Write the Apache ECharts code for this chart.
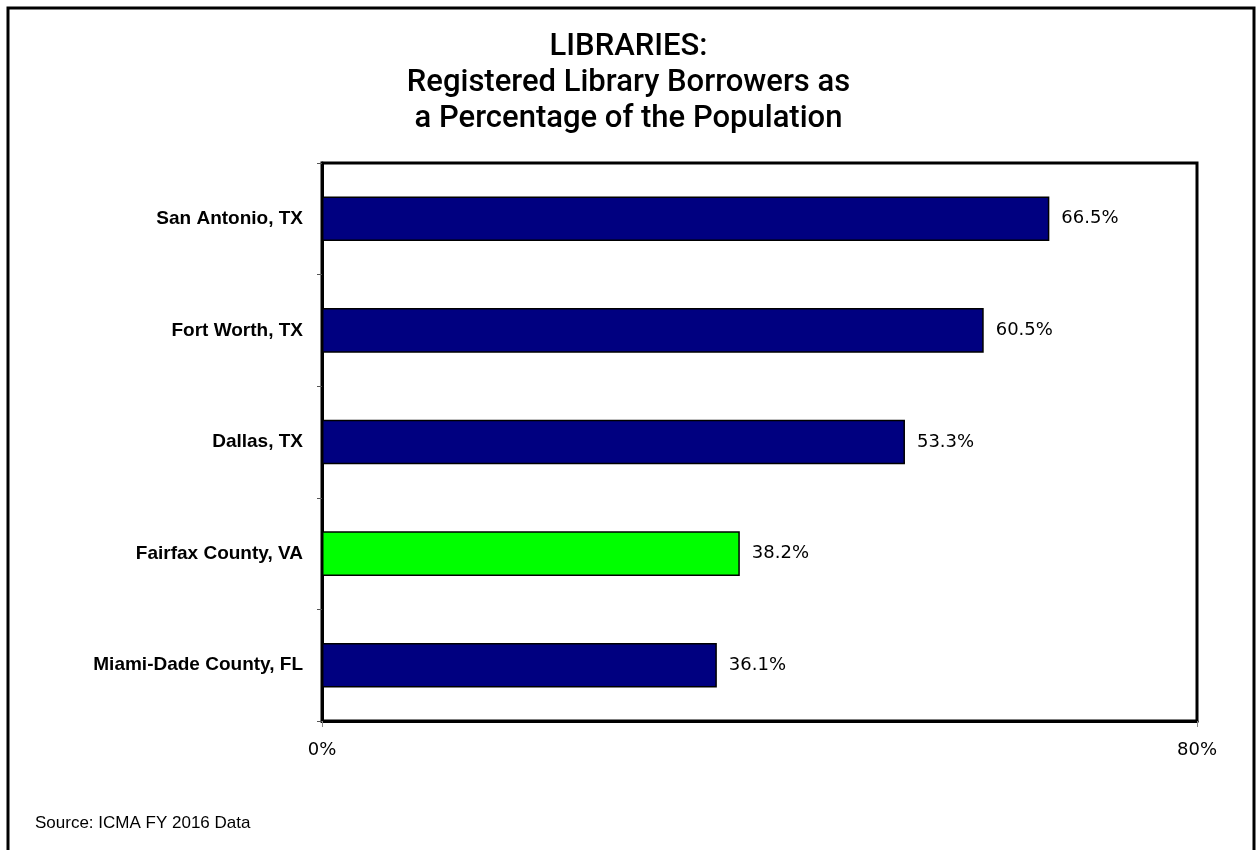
<!DOCTYPE html>
<html>
<head>
<meta charset="utf-8">
<title>Libraries - Registered Borrowers</title>
<script src="https://cdn.jsdelivr.net/npm/echarts@6/dist/echarts.min.js"></script>
<style>
  html, body { margin: 0; padding: 0; background: #fff; }
  #chart { width: 1257px; height: 850px; }
</style>
</head>
<body>
<div id="chart"></div>
<script>
const cities = [
  "San Antonio, TX",
  "Fort Worth, TX",
  "Dallas, TX",
  "Fairfax County, VA",
  "Miami-Dade County, FL",
];
const borrowerPct = [66.5, 60.5, 53.3, 38.2, 36.1];
const barColors = ["#000080", "#000080", "#000080", "#00ff00", "#000080"];
const xTicks = [0, 80];

const myChart = echarts.init(document.getElementById("chart"));

myChart.setOption({
  animation: false,
  backgroundColor: "#fff",
  title: {
    text: "LIBRARIES:\nRegistered Library Borrowers as\na Percentage of the Population",
    left: "center",
    top: 24,
    textStyle: {
      fontFamily: "Roboto",
      fontWeight: 500,
      fontSize: 31,
      lineHeight: 36,
      color: "#000",
    },
  },
  graphic: [
    {
      type: "rect",
      shape: { x: 8, y: 8, width: 1246, height: 900 },
      style: { fill: "none", stroke: "#000", lineWidth: 3 },
      silent: true,
    },
    {
      type: "text",
      left: 35,
      top: 815,
      style: {
        text: "Source: ICMA FY 2016 Data",
        fontFamily: "Liberation Sans",
        fontSize: 17,
        fill: "#000",
      },
    },
  ],
  grid: {
    left: 322,
    top: 163,
    right: 60,
    bottom: 129,
    show: true,
    borderColor: "#000",
    borderWidth: 3,
    containLabel: false,
  },
  xAxis: {
    type: "value",
    min: xTicks[0],
    max: xTicks[xTicks.length - 1],
    interval: xTicks[1] - xTicks[0],
    axisLine: { show: true, lineStyle: { color: "#000", width: 3 } },
    axisTick: { show: true, length: 6, lineStyle: { color: "#888", width: 1 } },
    splitLine: { show: false },
    axisLabel: {
      formatter: "{value}%",
      margin: 20,
      color: "#000",
      fontFamily: "DejaVu Sans",
      fontSize: 18,
    },
  },
  yAxis: {
    type: "category",
    data: cities,
    inverse: true,
    axisLine: { show: true, lineStyle: { color: "#000", width: 3 } },
    axisTick: { show: true, length: 5, lineStyle: { color: "#555", width: 1 } },
    axisLabel: {
      margin: 19,
      color: "#000",
      fontFamily: "Liberation Sans",
      fontWeight: "bold",
      fontSize: 19,
    },
  },
  series: [
    {
      type: "bar",
      barWidth: "40%",
      data: borrowerPct.map((v, i) => ({
        value: v,
        itemStyle: { color: barColors[i] },
      })),
      itemStyle: { borderColor: "#000", borderWidth: 1.5 },
      label: {
        show: true,
        position: "right",
        distance: 12,
        color: "#000",
        fontFamily: "DejaVu Sans",
        fontSize: 18,
        formatter: (p) => p.value.toFixed(1) + "%",
      },
    },
  ],
});
</script>
</body>
</html>
